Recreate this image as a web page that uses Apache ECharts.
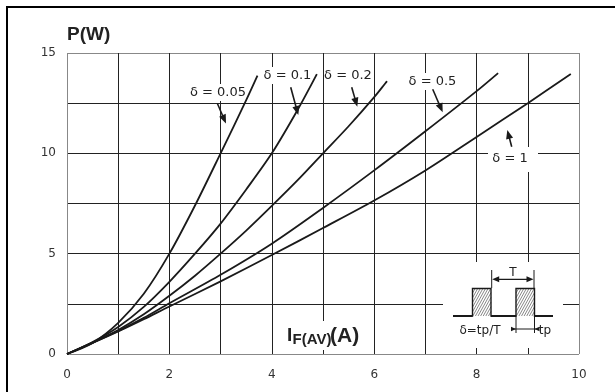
<!DOCTYPE html>
<html><head><meta charset="utf-8">
<script src="https://cdn.jsdelivr.net/npm/echarts@6/dist/echarts.min.js"></script>
<style>html,body{margin:0;padding:0;background:#fff}#c{width:615px;height:392px}</style>
</head><body><div id="c"></div>
<script>
// ---- data ----
const seriesNames = ['δ = 0.05', 'δ = 0.1', 'δ = 0.2', 'δ = 0.5', 'δ = 1'];
const curveD005 = [[0,0],[0.5,0.55],[1,1.55],[1.5,3.0],[2,5.0],[2.5,7.4],[3,10],[3.5,12.65],[3.72,13.87]];
const curveD01  = [[0,0],[0.5,0.6],[1,1.35],[1.5,2.35],[2,3.6],[2.5,5.0],[3,6.5],[3.5,8.2],[4,10],[4.5,12.15],[4.88,13.95]];
const curveD02  = [[0,0],[0.5,0.57],[1,1.2],[1.5,1.98],[2,2.9],[2.5,3.9],[3,5.0],[3.5,6.15],[4,7.38],[4.5,8.65],[5,10],[5.5,11.35],[6,12.8],[6.25,13.6]];
const curveD05  = [[0,0],[0.5,0.56],[1,1.15],[1.5,1.8],[2,2.53],[3,3.95],[4,5.5],[5,7.28],[6,9.15],[7,11.1],[8,13.1],[8.42,14.0]];
const curveD1   = [[0,0],[0.5,0.55],[1,1.12],[1.5,1.73],[2,2.37],[3,3.62],[4,4.93],[5,6.28],[6,7.65],[7,9.15],[8,10.82],[9,12.5],[9.84,13.95]];
const xLabelValues = [0, 2, 4, 6, 8, 10];
const yLabelValues = [0, 5, 10, 15];

const curves = [curveD005, curveD01, curveD02, curveD05, curveD1];
const FONT = 'DejaVu Sans';
const BOLD = '"Liberation Sans", Arial, sans-serif';
const LINE = '#1a1a1a';

const xLineColors = []; for (let i = 0; i <= 10; i++) xLineColors.push(i === 0 || i === 10 ? '#888' : '#222');
const yLineColors = []; for (let i = 0; i <= 6; i++) yLineColors.push(i === 0 || i === 6 ? '#888' : '#222');

// ---- annotation helpers (pixel layout) ----
const G = [];
function text(t, x, y, font, align) {
  const a = align || 'center';
  G.push({type:'text', z:10, style:{text:t, x:x, y:y, font:font, fill:'#222',
    align:a, verticalAlign:'middle', textAlign:a, textVerticalAlign:'middle'}});
}
function box(x, y, w, h) {
  G.push({type:'rect', z:1, shape:{x:x, y:y, width:w, height:h}, style:{fill:'#fff'}});
}
function line(x1, y1, x2, y2, w, c) {
  G.push({type:'line', z:10, shape:{x1:x1, y1:y1, x2:x2, y2:y2}, style:{stroke:c||'#1a1a1a', lineWidth:w||1}});
}
function arrowHead(x1, y1, x2, y2, len, hw) {
  const dx = x2 - x1, dy = y2 - y1, L = Math.hypot(dx, dy);
  const ux = dx / L, uy = dy / L;
  const bx = x2 - ux * len, by = y2 - uy * len;
  G.push({type:'polygon', z:10, shape:{points:[[x2,y2],[bx - uy*hw, by + ux*hw],[bx + uy*hw, by - ux*hw]]},
    style:{fill:'#1a1a1a'}});
  return [bx, by];
}
function arrow(x1, y1, x2, y2) {
  const b = arrowHead(x1, y1, x2, y2, 9, 3.6);
  line(x1, y1, b[0] + (x2-b[0])*0.3, b[1] + (y2-b[1])*0.3, 1.6);
}
function hatch(x0, y0, w, h) {
  const m = 1.8, s = 2.6;
  for (let k = -h / m; k < w; k += s) {
    const t0 = Math.max(0, -k * m), t1 = Math.min(h, (w - k) * m);
    if (t1 <= t0) continue;
    G.push({type:'line', z:10, shape:{x1:x0 + k + t0/m, y1:y0 + h - t0, x2:x0 + k + t1/m, y2:y0 + h - t1},
      style:{stroke:'#555', lineWidth:0.7}});
  }
}

// outer frame (top and left edge)
G.push({type:'polyline', z:10, shape:{points:[[7,392],[7,7],[615,7]]}, style:{stroke:'#000', lineWidth:2, fill:null}});

// axis titles
text('P(W)', 67, 35, 'bold 19px ' + BOLD, 'left');
box(283, 321, 81, 29);
text('I', 287, 335.5, 'bold 19px ' + BOLD, 'left');
text('F(AV)', 292.5, 340, 'bold 15px ' + BOLD, 'left');
text('(A)', 330, 336, 'bold 21px ' + BOLD, 'left');

// curve labels
const lblFont = '13px ' + FONT;
box(188, 84, 60, 17); text(seriesNames[0], 218, 92.5, lblFont);
box(266, 67, 43, 17); text(seriesNames[1], 287.5, 75.5, lblFont);
box(326, 67, 44, 17); text(seriesNames[2], 348, 75.5, lblFont);
box(411, 73, 43, 17); text(seriesNames[3], 432.5, 81.5, lblFont);
box(488, 147, 50, 25); text(seriesNames[4], 510, 159, lblFont);
arrow(217.3, 103.3, 226, 123.5);
arrow(290.7, 87.3, 298.3, 115);
arrow(351.7, 87.3, 357.3, 106.7);
arrow(432.7, 89.3, 442.7, 112.3);
arrow(511.7, 146.7, 507.3, 130);

// inset pulse diagram
box(443, 262, 120, 86);
hatch(472.5, 288.5, 18.5, 27.5);
hatch(516, 288.5, 18.5, 27.5);
G.push({type:'polyline', z:11, shape:{points:[[453,316],[472.5,316],[472.5,288.5],[491,288.5],[491,316],[516,316],[516,288.5],[534.5,288.5],[534.5,316],[553,316]]},
  style:{stroke:'#1a1a1a', lineWidth:1.4, fill:null}});
line(453, 316, 472.5, 316, 2); line(491, 316, 516, 316, 2); line(534.5, 316, 553, 316, 2);
line(491.7, 270, 491.7, 288, 1); line(534, 270, 534, 288, 1);
arrowHead(513, 279.3, 492.2, 279.3, 7, 3); arrowHead(513, 279.3, 533.5, 279.3, 7, 3);
line(496, 279.3, 529, 279.3, 1.2);
text('T', 513, 273, '12px ' + FONT);
line(516, 316, 516, 333, 1); line(534.5, 316, 534.5, 333, 1);
line(511.7, 329, 536.8, 329, 1);
arrowHead(510, 329, 516, 329, 5, 2.3); arrowHead(540, 329, 534.5, 329, 5, 2.3);
text('tp', 545, 331, '12px ' + FONT);
text('δ=tp/T', 480, 331, '12px ' + FONT);

const chart = echarts.init(document.getElementById('c'), null, {renderer:'canvas'});
chart.setOption({
  animation:false,
  backgroundColor:'#fff',
  grid:{left:67, top:53, width:512, height:301, show:false},
  xAxis:{type:'value', min:0, max:10, interval:1,
    axisLine:{show:false}, axisTick:{show:false},
    axisLabel:{formatter:v => xLabelValues.indexOf(v) >= 0 ? String(v) : '', color:'#333', fontSize:12, fontFamily:FONT, margin:15},
    splitLine:{show:true, showMinLine:true, showMaxLine:true, lineStyle:{color:xLineColors, width:1}}},
  yAxis:{type:'value', min:0, max:15, interval:2.5,
    axisLine:{show:false}, axisTick:{show:false},
    axisLabel:{formatter:v => yLabelValues.indexOf(v) >= 0 ? String(v) : '', color:'#333', fontSize:12, fontFamily:FONT, margin:11},
    splitLine:{show:true, showMinLine:true, showMaxLine:true, lineStyle:{color:yLineColors, width:1}}},
  series:curves.map((d, i) => ({type:'line', name:seriesNames[i], data:d, smooth:0.3, symbol:'none', z:5,
    lineStyle:{color:LINE, width:1.8}})),
  graphic:{elements:G}
});
</script></body></html>
